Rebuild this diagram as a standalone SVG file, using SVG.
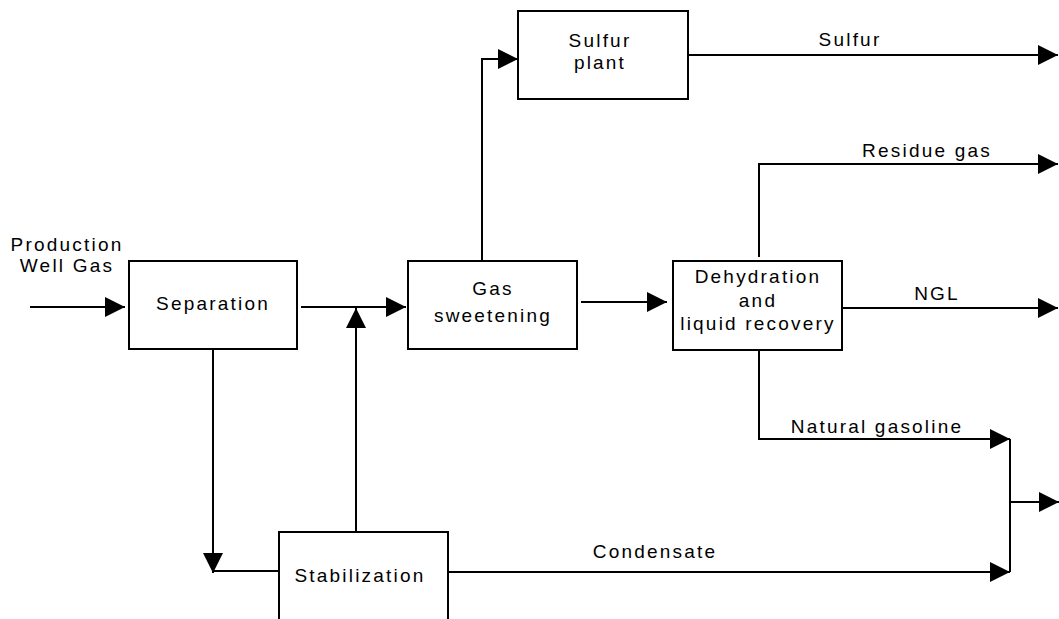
<svg xmlns="http://www.w3.org/2000/svg" width="1059" height="619" viewBox="0 0 1059 619">
  <style>
    .box { fill: #ffffff; stroke: #000000; stroke-width: 2; }
    .flow { fill: none; stroke: #000000; stroke-width: 2; }
    .arrow { marker-end: url(#head); }
    text { font-family: "Liberation Sans", Arial, sans-serif; font-size: 19px; letter-spacing: 2.2px; fill: #000000; text-anchor: middle; }
  </style>
  <defs>
    <marker id="head" viewBox="0 0 20 20" refX="20" refY="10" markerWidth="20" markerHeight="20" markerUnits="userSpaceOnUse" orient="auto">
      <path d="M0,0 L20,10 L0,20 Z" fill="#000000"/>
    </marker>
  </defs>

  <rect width="1059" height="619" fill="#ffffff"/>

  <!-- process streams -->
  <g id="connectors">
    <path class="flow arrow" d="M30,307 H125"/>
    <path class="flow arrow" d="M301,307 H406"/>
    <path class="flow arrow" d="M356,532 V308"/>
    <path class="flow arrow" d="M213,349 V573"/>
    <path class="flow" d="M213,571 H279"/>
    <path class="flow arrow" d="M482,261 V59 H518"/>
    <path class="flow arrow" d="M688,55 H1058"/>
    <path class="flow arrow" d="M581,302 H667"/>
    <path class="flow arrow" d="M759,257 V164 H1058"/>
    <path class="flow arrow" d="M843,308 H1058"/>
    <path class="flow arrow" d="M759,351 V439 H1010"/>
    <path class="flow arrow" d="M448,572 H1010"/>
    <path class="flow" d="M1010,439 V572"/>
    <path class="flow arrow" d="M1010,502 H1059"/>
  </g>

  <!-- stream labels -->
  <g id="labels">
    <text x="67" y="251">Production</text>
    <text x="67" y="272">Well Gas</text>
    <text x="850" y="46">Sulfur</text>
    <text x="927" y="157">Residue gas</text>
    <text x="937" y="300">NGL</text>
    <text x="877" y="433">Natural gasoline</text>
    <text x="655" y="558">Condensate</text>
  </g>

  <g id="separation">
    <rect class="box" x="129" y="261" width="168" height="88"/>
    <text x="213" y="310">Separation</text>
  </g>

  <g id="gas-sweetening">
    <rect class="box" x="408" y="261" width="169" height="88"/>
    <text x="493" y="295">Gas</text>
    <text x="493" y="322">sweetening</text>
  </g>

  <g id="sulfur-plant">
    <rect class="box" x="518" y="11" width="170" height="88"/>
    <text x="600" y="47">Sulfur</text>
    <text x="600" y="69">plant</text>
  </g>

  <g id="dehydration">
    <rect class="box" x="673" y="261" width="169" height="89"/>
    <text x="758" y="283">Dehydration</text>
    <text x="758" y="307">and</text>
    <text x="758" y="330">liquid recovery</text>
  </g>

  <g id="stabilization">
    <rect class="box" x="279" y="532" width="169" height="100"/>
    <text x="360" y="582">Stabilization</text>
  </g>
</svg>
